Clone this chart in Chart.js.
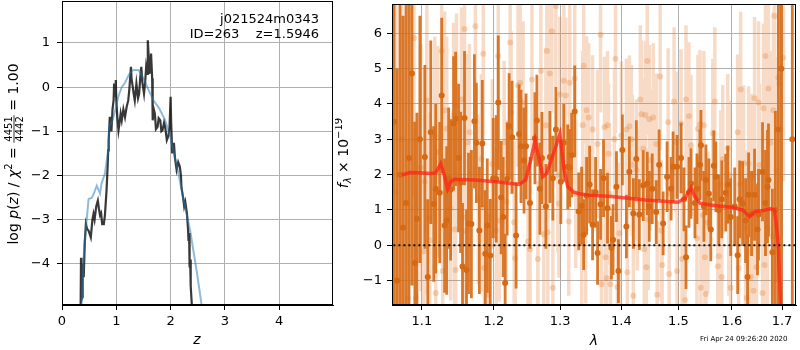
<!DOCTYPE html>
<html>
<head>
<meta charset="utf-8">
<script src="https://cdn.jsdelivr.net/npm/chart.js@4.4.0/dist/chart.umd.min.js"></script>
<style>
  body { margin: 0; background: #fff; }
  #wrap { position: relative; width: 800px; height: 350px; overflow: hidden; }
  #pzChart { position: absolute; left: 0; top: 0; }
  #specChart { position: absolute; left: 335px; top: 0; }
</style>
</head>
<body>
<div id="wrap">
  <canvas id="pzChart" width="340" height="350"></canvas>
  <canvas id="specChart" width="465" height="350"></canvas>
</div>
<script>
// ---------- data: left panel, log p(z) ----------
const zTicks = [0, 1, 2, 3, 4];
const pzTicks = [-4, -3, -2, -1, 0, 1];

// dark noisy curve
const zDark = [0.34,0.35,0.36,0.37,0.38,0.40,0.42,0.44,0.46,0.49,0.53,0.56,0.58,0.60,0.63,0.66,0.68,0.70,0.72,0.74,
  0.77,0.79,0.82,0.84,0.85,0.86,0.88,0.90,0.91,0.93,0.95,0.96,0.98,0.99,1.00,1.02,1.04,1.06,1.08,1.10,
  1.13,1.16,1.19,1.22,1.24,1.27,1.28,1.30,1.32,1.34,1.36,1.37,1.40,1.42,1.44,1.46,1.48,1.51,1.53,1.55,
  1.57,1.58,1.60,1.61,1.63,1.64,1.66,1.67,1.69,1.71,1.73,1.76,1.78,1.81,1.83,1.85,1.88,1.90,1.93,1.96,
  1.98,2.00,2.01,2.03,2.05,2.06,2.08,2.11,2.14,2.17,2.19,2.20,2.23,2.25,2.27,2.30,2.32,2.33,2.34,2.35,
  2.36,2.37,2.39,2.40];
const pzDark = [-5.5,-3.86,-4.8,-4.75,-4.0,-4.3,-3.5,-3.1,-3.2,-3.25,-3.4,-3.0,-2.87,-3.0,-2.7,-2.57,-2.75,-2.9,-2.85,-3.1,
  -3.1,-2.9,-2.34,-1.8,-1.43,-1.2,-0.67,-0.9,-1.0,-0.5,-0.3,0.08,-0.2,0.16,-0.3,-0.7,-0.98,-0.8,-0.6,-0.75,
  -0.5,-0.68,-0.45,-0.3,-0.05,0.46,0.2,0.03,-0.15,-0.3,-0.05,0.08,-0.25,-0.15,0.2,0.46,0.1,-0.15,0.1,0.46,
  0.3,1.06,0.6,0.3,0.5,0.76,0.2,-0.75,-0.5,-0.6,-0.95,-0.9,-0.7,-0.75,-1.0,-0.98,-0.8,-0.9,-1.2,-1.1,
  -0.9,-0.22,-0.8,-1.5,-1.3,-1.26,-1.6,-1.87,-1.7,-1.8,-2.0,-2.27,-2.5,-2.7,-2.6,-2.85,-3.2,-3.48,-3.3,-4.08,
  -3.9,-4.5,-4.92,-5.5];

// smooth blue curve
const zBlue = [0.35,0.36,0.41,0.46,0.49,0.55,0.59,0.64,0.70,0.73,0.79,0.85,0.87,0.93,0.98,1.04,1.10,1.16,1.24,1.31,
  1.41,1.50,1.59,1.68,1.79,1.90,1.99,2.05,2.11,2.23,2.36,2.48,2.57,2.62];
const pzBlue = [-5.3,-4.93,-3.6,-2.93,-2.53,-2.5,-2.4,-2.23,-2.41,-2.17,-1.96,-1.43,-0.9,-0.75,-0.52,-0.2,0.0,0.1,0.3,0.39,
  0.39,0.2,-0.05,-0.29,-0.48,-0.75,-1.1,-1.43,-1.75,-2.49,-3.25,-4.16,-4.92,-5.4];

// ---------- data: right panel, spectrum ----------
const lamTicks = [1.1, 1.2, 1.3, 1.4, 1.5, 1.6, 1.7];
const fluxTicks = [-1, 0, 1, 2, 3, 4, 5, 6];

// dark spectrum (wavelength, flux, error)
const lamDark = [1.0636,1.0675,1.0713,1.0752,1.0791,1.0830,1.0869,1.0908,1.0934,1.0974,
  1.1040,1.1079,1.1119,1.1159,1.1186,1.1240,1.1267,1.1307,1.1335,1.1362,
  1.1389,1.1430,1.1458,1.1499,1.1527,1.1554,1.1582,1.1610,1.1638,1.1679,
  1.1721,1.1749,1.1792,1.1834,1.1877,1.1905,1.1948,1.1991,1.2035,1.2064,
  1.2107,1.2136,1.2165,1.2195,1.2224,1.2268,1.2327,1.2372,1.2400,1.2446,
  1.2476,1.2536,1.2611,1.2641,1.2687,1.2718,1.2779,1.2841,1.2887,1.2934,
  1.3012,1.3059,1.3121,1.3153,1.3184,1.3232,1.3296,1.3344,1.3376,1.3424,
  1.3473,1.3521,1.3570,1.3603,1.3652,1.3701,1.3767,1.3833,1.3860,1.3917,
  1.3950,1.4017,1.4085,1.4136,1.4204,1.4255,1.4307,1.4375,1.4445,1.4480,
  1.4532,1.4602,1.4654,1.4725,1.4796,1.4867,1.4903,1.4975,1.5047,1.5101,
  1.5138,1.5192,1.5229,1.5302,1.5339,1.5395,1.5413,1.5469,1.5506,1.5562,
  1.5598,1.5655,1.5693,1.5749,1.5806,1.5882,1.5921,1.5978,1.6055,1.6113,
  1.6152,1.6210,1.6268,1.6307,1.6327,1.6386,1.6445,1.6504,1.6524,1.6604,
  1.6664,1.6704,1.6724,1.6804,1.6865,1.6926,1.6987,1.7213];
const fluxDark = [3.5,-1.0,2.0,0.5,1.2,2.47,4.86,-0.5,0.75,3.0,
  2.5,-0.9,3.2,1.17,1.6,1.49,4.24,0.56,0.7,1.9,
  1.57,3.45,3.58,2.47,1.78,-0.6,3.6,-0.7,0.62,0.6,
  3.51,2.9,0.42,2.88,-0.24,0.56,-0.29,1.9,1.88,4.04,
  1.35,0.8,-1.07,1.88,3.37,3.06,0.28,3.15,2.8,2.4,
  2.8,1.2,3.03,3.53,1.6,2.47,1.1,2.5,1.9,3.28,
  1.8,2.9,2.22,2.19,2.55,3.79,0.96,1.12,0.3,1.4,
  1.72,0.58,1.5,-0.22,1.16,1.9,1.05,-0.07,0.16,1.66,
  -0.73,2.7,0.53,2.08,0.9,2.44,0.87,1.69,1.75,1.1,
  1.6,0.94,2.28,0.62,1.94,1.6,2.22,2.22,2.47,1.3,
  -0.34,1.5,1.75,1.2,1.6,2.28,2.83,1.1,1.85,1.46,
  0.45,2.25,1.94,1.0,1.3,1.49,1.72,0.8,1.1,-0.28,
  1.3,1.18,0.7,-0.9,1.43,0.9,1.43,0.45,0.87,2.08,
  1.2,1.66,1.85,-0.2,1.0,3.28,5.0,3.0];
const errDark = [8,6,7,6,7,5,6,4,3,3.5,
  2.6,2.2,2.6,2.2,2.4,2.0,2.2,1.9,2.1,2.0,
  2.0,1.9,1.9,2.1,2.0,1.8,1.9,1.7,2.0,2.1,
  1.9,1.7,1.8,1.8,1.8,1.9,1.6,1.7,1.8,1.9,
  1.6,1.7,1.4,1.6,1.5,1.6,1.5,1.4,1.6,1.5,
  1.5,1.3,1.3,1.3,1.3,1.3,1.2,1.3,1.2,1.2,
  1.2,1.1,1.2,1.1,1.2,1.3,1.1,1.1,1.0,1.1,
  1.1,1.0,1.0,0.9,1.0,1.1,1.0,0.9,1.0,1.0,
  0.9,1.0,0.9,1.0,1.0,1.1,1.0,1.0,0.9,1.0,
  1.0,0.9,1.0,0.9,1.0,0.9,1.0,0.9,1.0,0.9,
  0.9,1.0,1.0,1.0,1.0,1.0,1.0,1.0,1.0,1.0,
  0.9,1.0,1.0,1.0,1.1,1.1,1.1,1.1,1.1,1.1,
  1.1,1.2,1.2,1.2,1.2,1.2,1.3,1.3,1.3,1.4,
  1.5,1.6,1.6,1.8,2.8,8,8,9];

// light spectrum (second orient)
const lamLight = [1.0662,1.0739,1.0817,1.0895,1.0921,1.0987,1.1026,1.1040,1.1066,1.1093,
  1.1106,1.1173,1.1186,1.1213,1.1267,1.1280,1.1307,1.1335,1.1389,1.1430,
  1.1444,1.1458,1.1471,1.1540,1.1568,1.1582,1.1596,1.1624,1.1651,1.1735,
  1.1777,1.1820,1.1834,1.1848,1.1863,1.1920,1.1977,1.2035,1.2064,1.2079,
  1.2150,1.2180,1.2239,1.2253,1.2298,1.2313,1.2357,1.2387,1.2431,1.2506,
  1.2536,1.2566,1.2656,1.2702,1.2748,1.2779,1.2794,1.2810,1.2841,1.2872,
  1.2887,1.2934,1.2965,1.2981,1.2997,1.3059,1.3090,1.3137,1.3153,1.3232,
  1.3248,1.3344,1.3360,1.3376,1.3408,1.3424,1.3457,1.3521,1.3603,1.3652,
  1.3668,1.3718,1.3734,1.3751,1.3767,1.3784,1.3800,1.3817,1.3883,1.3900,
  1.3934,1.3967,1.4000,1.4085,1.4102,1.4136,1.4170,1.4187,1.4204,1.4255,
  1.4273,1.4324,1.4341,1.4375,1.4393,1.4410,1.4428,1.4445,1.4462,1.4480,
  1.4497,1.4550,1.4602,1.4620,1.4672,1.4690,1.4707,1.4814,1.4832,1.4921,
  1.4957,1.4975,1.5047,1.5065,1.5120,1.5138,1.5192,1.5229,1.5339,1.5357,
  1.5376,1.5395,1.5413,1.5450,1.5469,1.5487,1.5506,1.5543,1.5636,1.5674,
  1.5730,1.5749,1.5787,1.5806,1.5825,1.5921,1.5940,1.5959,1.5978,1.6113,
  1.6132,1.6152,1.6171,1.6229,1.6268,1.6288,1.6327,1.6366,1.6386,1.6425,
  1.6445,1.6484,1.6524,1.6544,1.6604,1.6624,1.6644,1.6664,1.6704,1.6724,
  1.6764,1.6804,1.6824,1.6845,1.6885,1.6926,1.6946,1.7028];
const fluxLight = [1.5,3.0,-1.5,5.87,-1.49,2.2,-0.17,1.8,4.1,0.76,
  0.14,3.1,-1.35,2.64,5.5,-0.73,3.82,3.3,1.04,3.7,
  0.45,-0.7,3.96,4.13,0.79,6.12,0.4,2.92,3.2,6.2,
  1.3,2.44,1.07,5.42,-0.64,-1.4,2.3,0.42,5.36,0.7,
  2.92,1.24,5.74,3.76,0.65,-0.37,4.52,4.6,4.04,0.11,
  -0.11,4.69,-0.39,4.94,0.31,3.4,5.5,0.37,4.86,6.06,
  -1.2,6.77,1.99,1.18,4.27,4.66,4.24,0.67,4.6,4.72,
  1.46,0.08,3.4,5.08,0.45,3.82,3.62,3.28,2.87,5.96,
  -1.1,3.34,-0.34,-0.93,3.4,2.59,1.46,-1.1,3.0,5.28,
  -1.18,0.34,3.1,3.28,-0.76,3.37,3.0,2.27,-1.43,2.13,
  1.29,4.13,3.71,2.73,-0.11,3.69,-0.62,5.22,0.73,3.57,
  2.41,3.62,2.87,-1.4,4.78,0.42,-0.56,3.48,-0.81,4.07,
  2.92,-0.73,3.45,-0.39,-1.55,4.13,3.65,2.83,0.2,3.29,
  2.44,3.43,-1.2,0.86,3.4,-0.34,-1.38,0.65,3.17,4.07,
  -0.59,-0.31,1.72,-0.9,2.44,2.75,0.67,1.99,-1.2,3.2,
  -0.64,1.72,4.41,2.33,0.48,-1.49,2.3,-0.9,1.99,-1.29,
  4.16,-0.62,4.04,2.27,-1.35,3.88,-0.56,5.36,0.48,4.44,
  2.9,0.25,3.82,6.49,2.13,4.75,4.58,5.31];
const errLight = [6,5,4.5,4.5,3.5,3.5,3.2,3.2,3.2,3.0,
  3.0,2.8,2.8,3.0,2.8,2.8,2.8,2.6,2.6,2.6,
  2.6,2.6,2.6,2.6,2.5,2.6,2.5,2.5,2.5,2.6,
  2.4,2.4,2.4,2.5,2.4,2.3,2.4,2.3,2.4,2.3,
  2.3,2.3,2.3,2.3,2.3,2.2,2.3,2.3,2.3,2.2,
  2.2,2.3,2.2,2.2,2.2,2.2,2.3,2.2,2.2,2.3,
  2.2,2.3,2.2,2.1,2.2,2.2,2.2,2.1,2.2,2.2,
  2.1,2.1,2.1,2.2,2.1,2.1,2.1,2.1,2.1,2.2,
  2.1,2.0,2.1,2.0,2.1,2.0,2.0,2.1,2.0,2.1,
  2.1,2.0,2.1,2.0,2.1,2.0,2.1,2.0,2.1,2.0,
  2.0,2.1,2.1,2.0,2.0,2.1,2.0,2.1,2.0,2.1,
  2.0,2.1,2.0,2.1,2.1,2.0,2.0,2.1,2.0,2.1,
  2.0,2.0,2.1,2.0,2.1,2.1,2.1,2.0,2.0,2.1,
  2.0,2.1,2.1,2.0,2.1,2.0,2.1,2.0,2.1,2.1,
  2.1,2.1,2.1,2.1,2.1,2.1,2.1,2.1,2.1,2.2,
  2.2,2.2,2.2,2.2,2.2,2.2,2.2,2.2,2.3,2.3,
  2.3,2.3,2.3,2.3,2.4,2.4,2.4,2.6,2.5,2.6,
  2.6,2.8,2.8,3.2,3.2,3.5,3.5,3.5];

// model (red line)
const lamModel = [1.0739,1.0843,1.0974,1.1106,1.1186,1.1254,1.1300,1.1348,1.1389,1.1445,1.1721,1.2036,1.2373,1.2470,
  1.2540,1.2613,1.2674,1.2730,1.2790,1.2870,1.2997,1.3060,1.3121,1.3218,1.3300,1.3458,1.3835,1.4411,1.4993,
  1.5120,1.5230,1.5302,1.5395,1.5598,1.5977,1.6210,1.6346,1.6465,1.6600,1.6764,1.6845,1.6885,1.6926,1.6967,1.7010];
const fluxModel = [1.99,2.06,2.05,2.03,2.05,2.31,2.0,1.6,1.8,1.87,1.85,1.8,1.72,1.85,
  2.36,2.97,2.45,1.94,2.03,2.45,3.15,2.17,1.66,1.5,1.46,1.42,1.38,1.28,1.22,
  1.33,1.63,1.38,1.19,1.14,1.08,1.0,0.81,0.96,0.98,1.03,1.0,0.58,-0.08,-1.57,-3.2];

// ---------- helpers ----------
const FONT = '"DejaVu Sans", sans-serif';
Chart.defaults.font.family = FONT;
Chart.defaults.font.size = 13;
Chart.defaults.color = '#000';

const minus = v => String(v).replace('-', '\u2212');

function toPoints(xs, ys) {
  return xs.map((x, i) => ({ x: x, y: ys[i] }));
}

// ทำเส้น error bar เป็นเส้นเดียวที่เว้นช่วงด้วย null
function errorSegments(xs, ys, es) {
  const pts = [];
  for (let i = 0; i < xs.length; i++) {
    pts.push({ x: xs[i], y: ys[i] - es[i] });
    pts.push({ x: xs[i], y: ys[i] + es[i] });
    pts.push({ x: xs[i], y: null });
  }
  return pts;
}

// rich text: italic, sup/sub, fraction
function drawRuns(ctx, runs, cx, cy, rotate) {
  ctx.save();
  ctx.translate(cx, cy);
  if (rotate) ctx.rotate(-Math.PI / 2);
  ctx.textBaseline = 'middle';
  ctx.fillStyle = '#000';
  let total = 0;
  runs.forEach(r => {
    ctx.font = r.font;
    r.w = r.frac
      ? Math.max(ctx.measureText(r.frac[0]).width, ctx.measureText(r.frac[1]).width) + 2
      : ctx.measureText(r.t).width;
    total += r.w;
  });
  let x = -total / 2;
  runs.forEach(r => {
    ctx.font = r.font;
    if (r.frac) {
      ctx.textAlign = 'center';
      ctx.fillText(r.frac[0], x + r.w / 2, -5);
      ctx.fillText(r.frac[1], x + r.w / 2, 6);
      ctx.fillRect(x, -0.4, r.w, 0.8);
    } else {
      ctx.textAlign = 'left';
      ctx.fillText(r.t, x, r.dy || 0);
    }
    x += r.w;
  });
  ctx.restore();
}

// กรอบสี่ด้านของพื้นที่กราฟ
const framePlugin = {
  id: 'frame',
  afterDraw(chart) {
    const a = chart.chartArea, ctx = chart.ctx;
    ctx.save();
    ctx.strokeStyle = '#000';
    ctx.lineWidth = 1;
    ctx.strokeRect(Math.round(a.left) + 0.5, Math.round(a.top) + 0.5,
      Math.round(a.right - a.left) - 1, Math.round(a.bottom - a.top) - 1);
    ctx.restore();
  }
};

const N14 = '14px ' + FONT, I14 = 'italic 14px ' + FONT, S10 = '10px ' + FONT, IS10 = 'italic 10px ' + FONT;

const pzLabels = {
  id: 'pzLabels',
  afterDraw(chart) {
    const ctx = chart.ctx;
    drawRuns(ctx, [
      { t: 'log ', font: N14 }, { t: 'p', font: I14 }, { t: '(', font: N14 }, { t: 'z', font: I14 },
      { t: ') / ', font: N14 }, { t: '\u03c7', font: I14 }, { t: '2', font: S10, dy: -5 },
      { t: ' = ', font: N14 }, { frac: ['4451', '4442'], font: S10 }, { t: ' = 1.00', font: N14 }
    ], 14, 154, true);
    drawRuns(ctx, [{ t: 'z', font: I14 }], 197, 340, false);
    ctx.save();
    ctx.font = '13px ' + FONT;
    ctx.fillStyle = '#000';
    ctx.textAlign = 'right';
    ctx.textBaseline = 'middle';
    ctx.fillText('j021524m0343', 319, 20);
    ctx.fillText('ID=263    z=1.5946', 319, 35);
    ctx.restore();
  }
};

const specLabels = {
  id: 'specLabels',
  afterDraw(chart) {
    const ctx = chart.ctx;
    drawRuns(ctx, [
      { t: 'f', font: I14 }, { t: '\u03bb', font: IS10, dy: 4 },
      { t: ' \u00d7 10', font: N14 }, { t: '\u221219', font: S10, dy: -5 }
    ], 9, 153, true);
    drawRuns(ctx, [{ t: '\u03bb', font: I14 }], 259, 341, false);
    ctx.save();
    ctx.font = '7px ' + FONT;
    ctx.fillStyle = '#000';
    ctx.textAlign = 'left';
    ctx.textBaseline = 'middle';
    ctx.fillText('Fri Apr 24 09:26:20 2020', 365, 339);
    ctx.restore();
  }
};

const gridOpts = { color: '#b0b0b0', lineWidth: 1, tickColor: '#000', tickLength: 5, tickWidth: 1 };

// ตัด padding ที่ Chart.js เผื่อไว้ให้ป้าย tick ออก เพื่อให้พื้นที่กราฟตรงกับต้นฉบับ
function fitX(s) { s.height = 45; s.paddingLeft = 0; s.paddingRight = 0; }
function fitY(w) { return s => { s.width = w; s.paddingTop = 0; s.paddingBottom = 0; }; }

// ---------- left chart ----------
new Chart(document.getElementById('pzChart'), {
  type: 'scatter',
  data: {
    datasets: [
      { data: toPoints(zBlue, pzBlue), showLine: true, borderColor: 'rgba(31,119,180,0.5)', borderWidth: 2,
        pointRadius: 0, clip: 0, order: 0 },
      { data: toPoints(zDark, pzDark), showLine: true, borderColor: 'rgba(0,0,0,0.78)', borderWidth: 2.2,
        pointRadius: 0, clip: 0, order: 1 }
    ]
  },
  options: {
    animation: false, responsive: false, maintainAspectRatio: false,
    layout: { padding: { top: 1, right: 7, left: 0, bottom: 0 } },
    plugins: { legend: { display: false }, tooltip: { enabled: false } },
    scales: {
      x: {
        type: 'linear', min: 0, max: 4.99,
        afterBuildTicks: s => { s.ticks = zTicks.map(v => ({ value: v })); },
        afterFit: fitX,
        ticks: { padding: 4, autoSkip: false, maxRotation: 0, callback: v => minus(v) },
        grid: gridOpts, border: { color: '#000' }
      },
      y: {
        type: 'linear', min: -4.93, max: 1.95,
        afterBuildTicks: s => { s.ticks = pzTicks.map(v => ({ value: v })); },
        afterFit: fitY(62),
        ticks: { padding: 7, autoSkip: false, callback: v => minus(v) },
        grid: gridOpts, border: { color: '#000' }
      }
    }
  },
  plugins: [framePlugin, pzLabels]
});

// ---------- right chart ----------
new Chart(document.getElementById('specChart'), {
  type: 'scatter',
  data: {
    datasets: [
      { data: [{ x: 1.05, y: 0 }, { x: 1.75, y: 0 }], showLine: true, borderColor: '#111', borderWidth: 2,
        borderDash: [2, 3], pointRadius: 0, clip: 0, order: 0 },
      { data: toPoints(lamModel, fluxModel), showLine: true, borderColor: 'rgba(255,35,25,0.75)', borderWidth: 3.5,
        pointRadius: 0, clip: 0, order: 1 },
      { data: toPoints(lamDark, fluxDark), pointRadius: 3, pointBorderWidth: 0,
        backgroundColor: 'rgb(214,106,20)', clip: 0, order: 2 },
      { data: errorSegments(lamDark, fluxDark, errDark), showLine: true, spanGaps: false,
        borderColor: 'rgba(214,106,20,0.9)', borderWidth: 2.8, pointRadius: 0, clip: 0, order: 3 },
      { data: toPoints(lamLight, fluxLight), pointRadius: 3, pointBorderWidth: 0,
        backgroundColor: 'rgba(225,125,50,0.3)', clip: 0, order: 4 },
      { data: errorSegments(lamLight, fluxLight, errLight), showLine: true, spanGaps: false,
        borderColor: 'rgba(225,125,50,0.28)', borderWidth: 3.5, pointRadius: 0, clip: 0, order: 5 }
    ]
  },
  options: {
    animation: false, responsive: false, maintainAspectRatio: false,
    layout: { padding: { top: 1, right: 1, left: 0, bottom: 0 } },
    plugins: { legend: { display: false }, tooltip: { enabled: false } },
    scales: {
      x: {
        type: 'logarithmic', min: 1.061, max: 1.729, z: 1,
        afterBuildTicks: s => { s.ticks = lamTicks.map(v => ({ value: v })); },
        afterFit: fitX,
        ticks: { padding: 4, autoSkip: false, maxRotation: 0, callback: v => Number(v).toFixed(1) },
        grid: gridOpts, border: { color: '#000' }
      },
      y: {
        type: 'linear', min: -1.69, max: 6.83, z: 1,
        afterBuildTicks: s => { s.ticks = fluxTicks.map(v => ({ value: v })); },
        afterFit: fitY(57),
        ticks: { padding: 5, autoSkip: false, callback: v => minus(v) },
        grid: gridOpts, border: { color: '#000' }
      }
    }
  },
  plugins: [framePlugin, specLabels]
});
</script>
</body>
</html>
